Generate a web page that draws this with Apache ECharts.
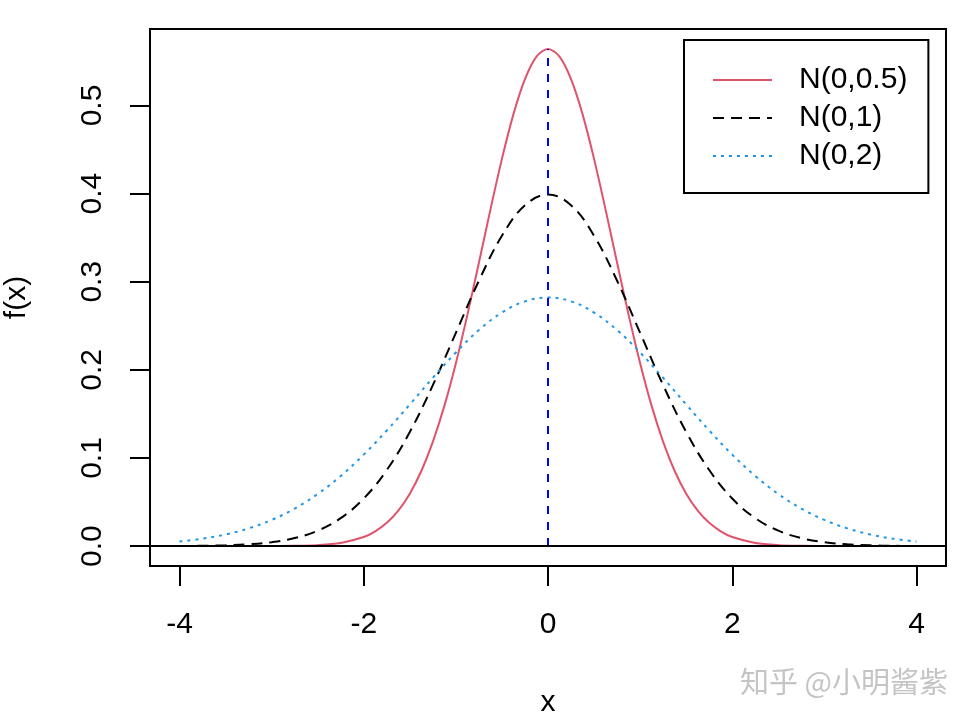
<!DOCTYPE html>
<html>
<head>
<meta charset="utf-8">
<script src="https://cdn.jsdelivr.net/npm/echarts@6/dist/echarts.min.js"></script>
<style>
html,body{margin:0;padding:0;background:#fff;}
#chart{width:972px;height:724px;}
</style>
</head>
<body>
<div id="chart"></div>
<script>
// x grid for the two wider curves
const xs = [-4,-3.75,-3.5,-3.25,-3,-2.75,-2.5,-2.25,-2,-1.75,-1.5,-1.25,-1,-0.75,-0.5,-0.25,0,
            0.25,0.5,0.75,1,1.25,1.5,1.75,2,2.25,2.5,2.75,3,3.25,3.5,3.75,4];
// finer x grid for the narrow curve
const xsHalf = [-4,-3.5,-3,-2.75,-2.5,-2.25,-2,-1.875,-1.75,-1.625,-1.5,-1.375,-1.25,-1.125,-1,-0.875,-0.75,-0.625,-0.5,-0.375,-0.25,-0.125,0,
                0.125,0.25,0.375,0.5,0.625,0.75,0.875,1,1.125,1.25,1.375,1.5,1.625,1.75,1.875,2,2.25,2.5,2.75,3,3.5,4];
// N(0,0.5)
const yHalf = [0,0,0.00007,0.00029,0.00109,0.00357,0.01033,0.0168,0.0264,0.0402,0.0595,0.0852,0.1183,0.1591,0.2076,0.2624,0.3215,0.3818,0.4394,0.4902,0.5300,0.5555,0.5642,
               0.5555,0.5300,0.4902,0.4394,0.3818,0.3215,0.2624,0.2076,0.1591,0.1183,0.0852,0.0595,0.0402,0.0264,0.0168,0.01033,0.00357,0.00109,0.00029,0.00007,0,0];
// N(0,1)
const yOne = [0.00013,0.00035,0.00087,0.00203,0.00443,0.0091,0.0175,0.0317,0.0540,0.0863,0.1295,0.1826,0.2420,0.3011,0.3521,0.3867,0.3989,
              0.3867,0.3521,0.3011,0.2420,0.1826,0.1295,0.0863,0.0540,0.0317,0.0175,0.0091,0.00443,0.00203,0.00087,0.00035,0.00013];
// N(0,2)
const yTwo = [0.0052,0.0084,0.0132,0.0201,0.0297,0.0426,0.0591,0.0796,0.1038,0.1312,0.1607,0.1909,0.2197,0.2451,0.2650,0.2777,0.2821,
              0.2777,0.2650,0.2451,0.2197,0.1909,0.1607,0.1312,0.1038,0.0796,0.0591,0.0426,0.0297,0.0201,0.0132,0.0084,0.0052];
const vlineX = [0, 0];
const vlineY = [0, 0.5642];
const seriesNames = ['N(0,0.5)', 'N(0,1)', 'N(0,2)'];
const xTicks = [-4, -2, 0, 2, 4];
const yTicks = [0, 0.1, 0.2, 0.3, 0.4, 0.5];

const pair = (a, b) => a.map((v, i) => [v, b[i]]);
const FONT = "'Liberation Sans', Arial, Helvetica, sans-serif";

const chart = echarts.init(document.getElementById('chart'), null, {renderer: 'canvas'});
chart.setOption({
  animation: false,
  backgroundColor: '#fff',
  textStyle: {fontFamily: FONT},
  grid: {left: 150, right: 26, top: 29, bottom: 158, containLabel: false, outerBoundsMode: 'none',
         show: true, borderColor: '#000', borderWidth: 2, backgroundColor: 'transparent'},
  xAxis: {
    type: 'value', min: -4.32, max: 4.32,
    name: 'x', nameLocation: 'middle', nameGap: 122,
    nameTextStyle: {fontSize: 30, color: '#000', fontFamily: FONT},
    axisLine: {show: false, onZero: false},
    splitLine: {show: false},
    axisTick: {show: true, inside: false, length: 20, customValues: xTicks, lineStyle: {color: '#000', width: 2}},
    axisLabel: {show: true, customValues: xTicks, margin: 44, fontSize: 30, color: '#000', fontFamily: FONT,
                formatter: v => String(v)}
  },
  yAxis: {
    type: 'value', min: -0.02257, max: 0.58677,
    name: 'f(x)', nameLocation: 'middle', nameGap: 118,
    nameTextStyle: {fontSize: 30, color: '#000', fontFamily: FONT},
    axisLine: {show: false, onZero: false},
    splitLine: {show: false},
    axisTick: {show: true, inside: false, length: 20, customValues: yTicks, lineStyle: {color: '#000', width: 2}},
    axisLabel: {show: true, customValues: yTicks, rotate: 90, margin: 42, fontSize: 30, color: '#000', fontFamily: FONT,
                formatter: v => v.toFixed(1)}
  },
  legend: {
    data: seriesNames,
    orient: 'vertical', left: 684, top: 40,
    itemWidth: 59, itemHeight: 14, itemGap: 0, itemTextGap: 29,
    padding: [21, 21, 18, 28],
    borderColor: '#000', borderWidth: 2, backgroundColor: '#fff',
    selectedMode: false,
    itemStyle: {opacity: 0},
    textStyle: {fontSize: 30, lineHeight: 38, color: '#000', fontFamily: FONT, padding: [0, 0, 0, 22]}
  },
  series: [
    {name: seriesNames[0], type: 'line', data: pair(xsHalf, yHalf), symbol: 'none', smooth: 0.3,
     lineStyle: {color: '#DF536B', width: 2, type: 'solid'}, itemStyle: {color: '#DF536B'}},
    {name: seriesNames[1], type: 'line', data: pair(xs, yOne), symbol: 'none', smooth: 0.4,
     lineStyle: {color: '#000', width: 2, type: [11, 7]}, itemStyle: {color: '#000'}},
    {name: seriesNames[2], type: 'line', data: pair(xs, yTwo), symbol: 'none', smooth: 0.4,
     lineStyle: {color: '#2297E6', width: 2, type: [3, 5]}, itemStyle: {color: '#2297E6'}},
    {name: 'vline', type: 'line', data: pair(vlineX, vlineY), symbol: 'none',
     lineStyle: {color: '#0000FF', width: 2, type: [8, 8]},
     markLine: {silent: true, symbol: 'none', label: {show: false},
                lineStyle: {color: '#000', width: 2, type: 'solid'}, data: [{yAxis: 0}]}}
  ],
  graphic: [{
    type: 'text', right: 24, top: 667,
    style: {text: '知乎 @小明酱紫', fontSize: 29, fill: '#c4c4c4',
            fontFamily: "'Noto Sans CJK SC', sans-serif",
            shadowColor: 'rgba(0,0,0,0.25)', shadowBlur: 1, shadowOffsetX: 1, shadowOffsetY: 1}
  }]
});
</script>
</body>
</html>
